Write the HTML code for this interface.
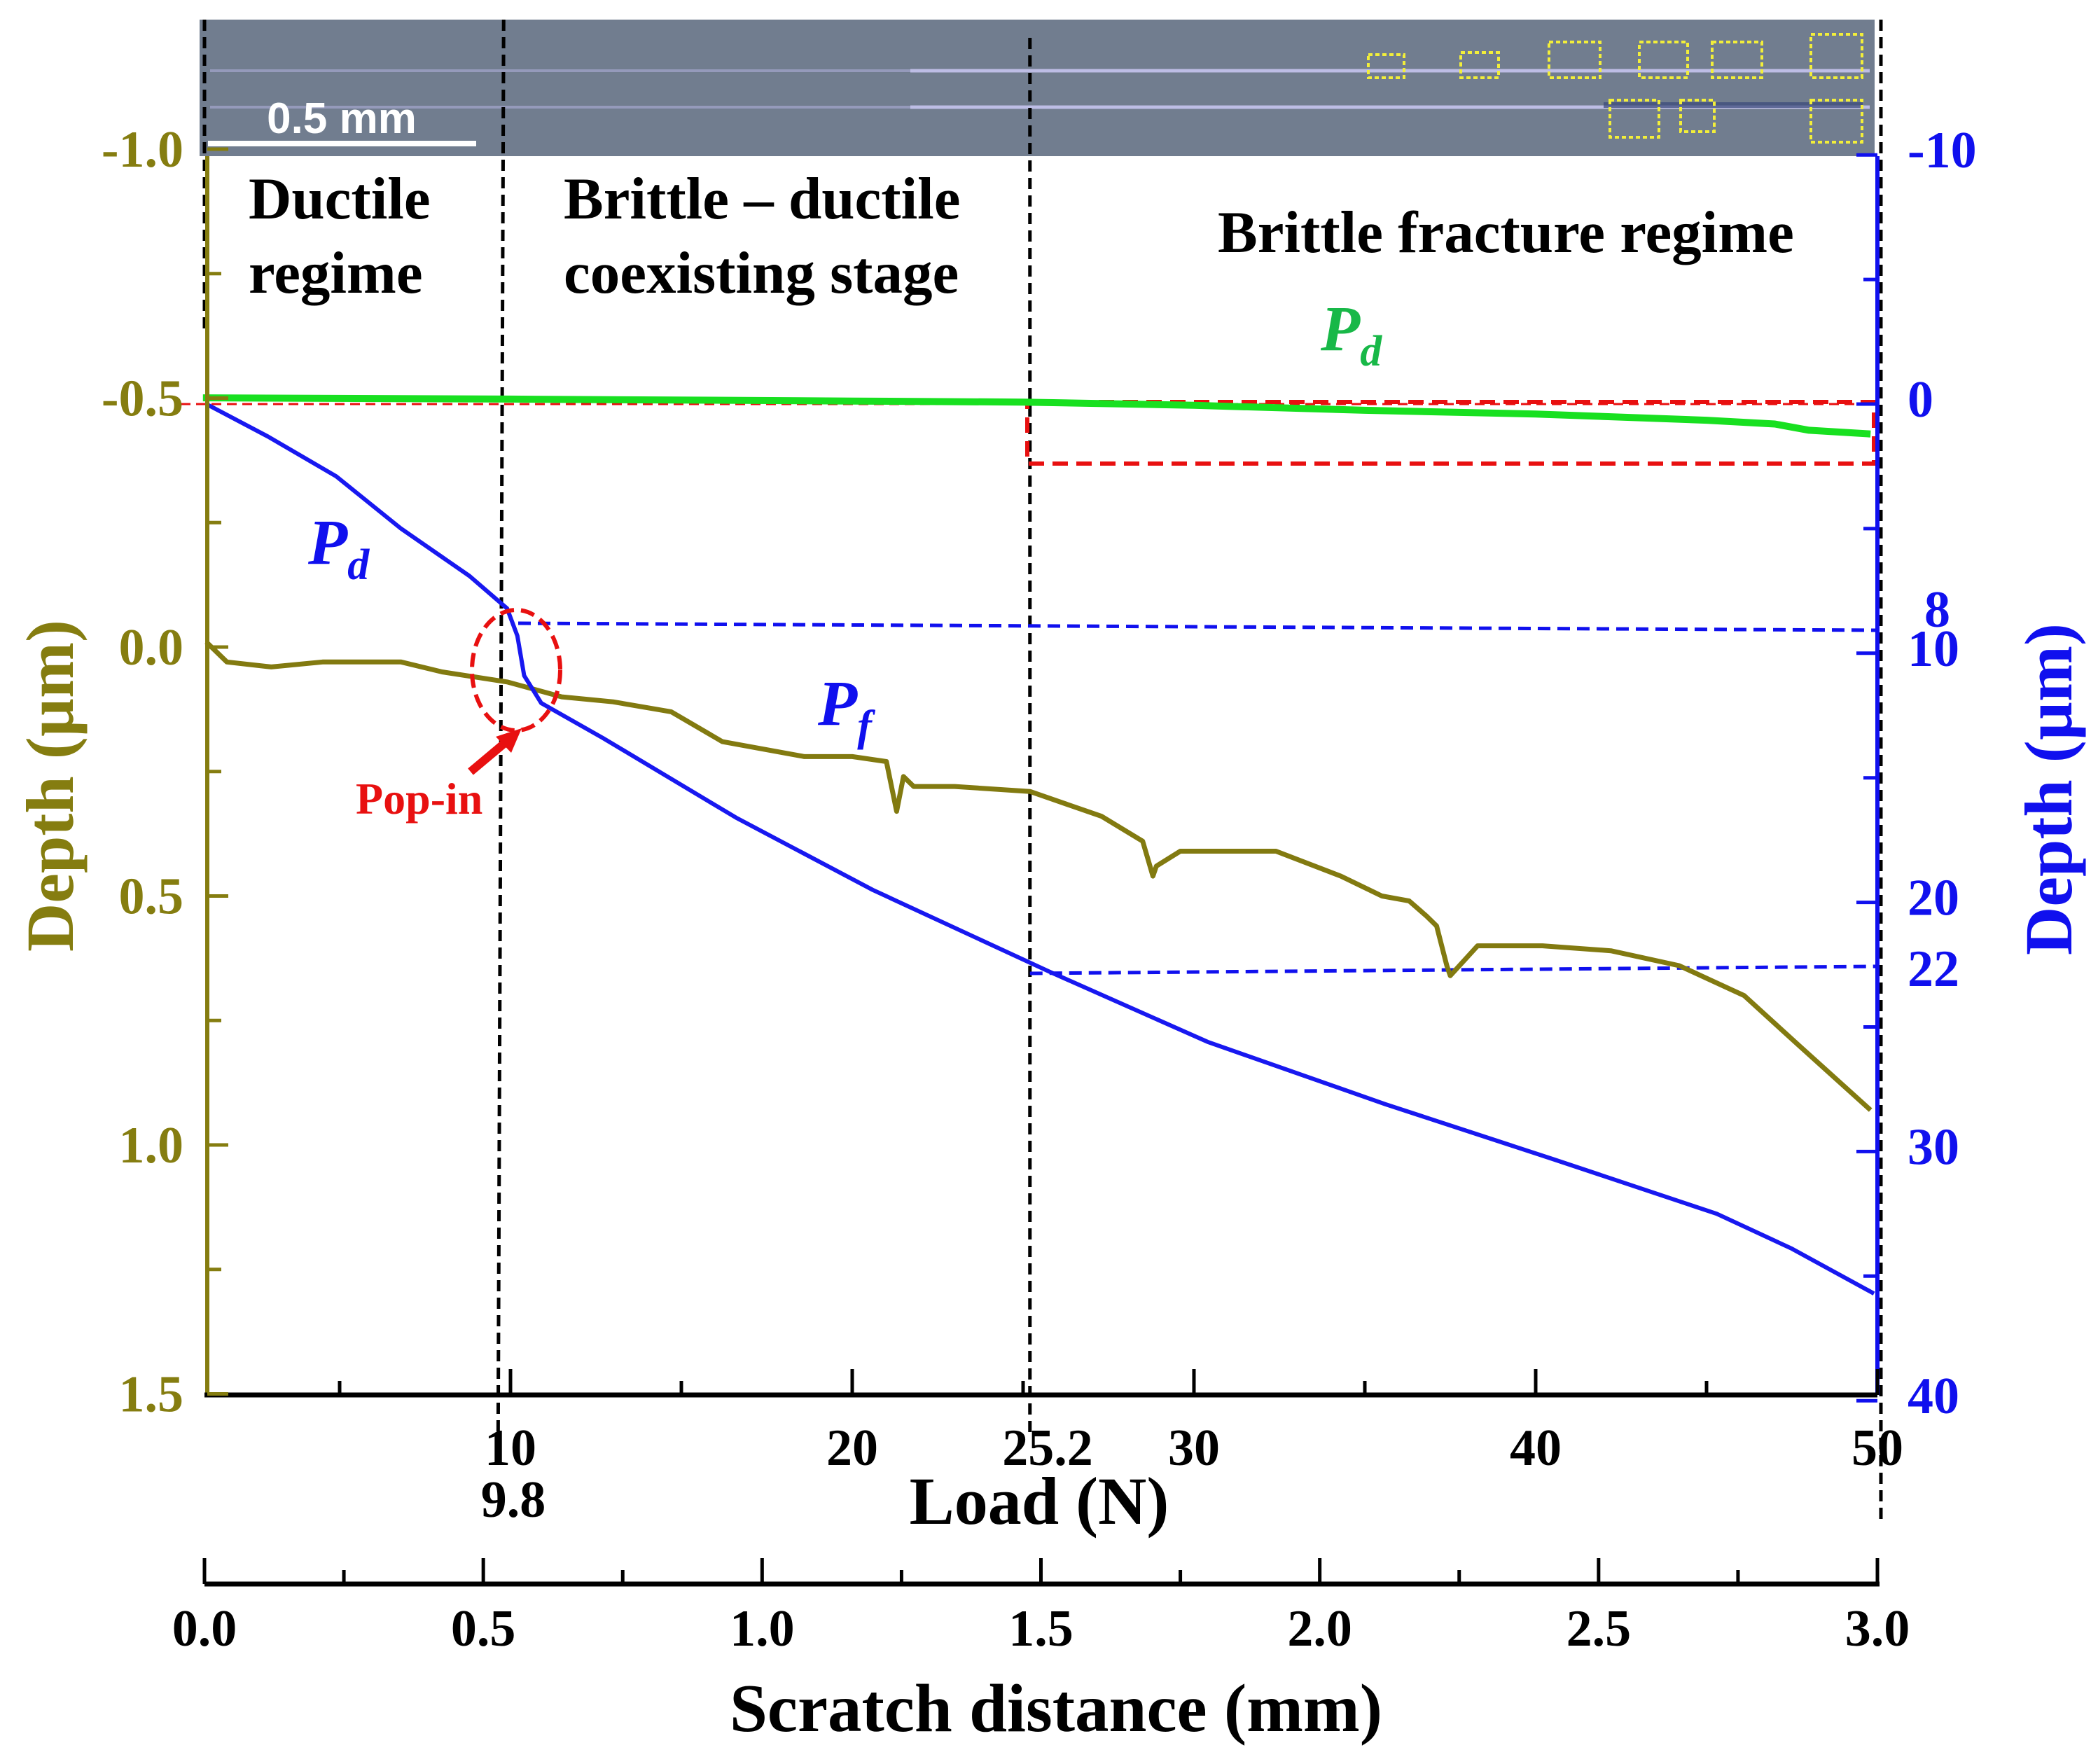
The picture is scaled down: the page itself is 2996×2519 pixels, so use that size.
<!DOCTYPE html>
<html><head><meta charset="utf-8"><style>
html,body{margin:0;padding:0;background:#fff;}
svg{display:block;}
text{font-family:"Liberation Serif",serif;font-weight:bold;}
</style></head><body>
<svg id="chart" width="2996" height="2519" viewBox="0 0 2996 2519" xmlns="http://www.w3.org/2000/svg">
<g id="micro">
<rect x="285" y="28" width="2392" height="195" fill="#737f92"/>
<rect x="285" y="28" width="2392" height="195" fill="#6f7b8c" opacity="0.4"/>
<line x1="300" y1="101" x2="2670" y2="101" stroke="#b9b8e8" stroke-width="4" opacity="0.5"/>
<line x1="300" y1="153" x2="2670" y2="153" stroke="#b9b8e8" stroke-width="4" opacity="0.5"/>
<line x1="1300" y1="101" x2="2670" y2="101" stroke="#c8c6f0" stroke-width="5" opacity="0.8"/>
<line x1="1300" y1="153" x2="2670" y2="153" stroke="#c8c6f0" stroke-width="5" opacity="0.8"/>
<line x1="2290" y1="150" x2="2660" y2="150" stroke="#39477a" stroke-width="8" opacity="0.7"/>
<g fill="none" stroke="#f2ee3a" stroke-width="4" stroke-dasharray="6 4">
<rect x="1954" y="78" width="51" height="33"/><rect x="2086" y="75" width="54" height="36"/>
<rect x="2212" y="60" width="73" height="51"/><rect x="2341" y="60" width="69" height="51"/>
<rect x="2445" y="60" width="71" height="51"/><rect x="2586" y="49" width="73" height="62"/>
<rect x="2299" y="143" width="70" height="53"/><rect x="2400" y="143" width="48" height="45"/>
<rect x="2586" y="143" width="73" height="60"/>
</g>
<rect x="297" y="201" width="383" height="8" fill="#fff"/>
<text x="488" y="190" font-size="62" fill="#fff" text-anchor="middle" style="font-family:'Liberation Sans',sans-serif">0.5 mm</text>
</g>
<g id="plot"></g>
</svg>
<script>
const pdLoad=[1.1,2.9,4.9,6.8,8.8,9.9,10.2,10.4,10.9,12.7,16.6,20.6,25.8,30.4,35.6,40.5,45.3,47.5,49.9];
const pdDepth=[0,1.3,2.9,5.0,6.9,8.2,9.3,10.9,12.0,13.4,16.6,19.5,22.8,25.6,28.1,30.3,32.5,33.9,35.7];
const pfLoad=[1.1,1.7,3,4.5,6.8,8,9.9,11.5,13,14.7,16.2,18.6,20,21.0,21.3,21.5,21.8,23,25.2,27.3,28.5,28.8,28.9,29.6,32.4,34.3,35.5,36.3,36.8,37.1,37.4,37.5,38.3,40.2,42.2,44.2,46.1,47.7,49.8];
const pfDepth=[-0.01,0.03,0.04,0.03,0.03,0.05,0.07,0.1,0.11,0.13,0.19,0.22,0.22,0.23,0.33,0.26,0.28,0.28,0.29,0.34,0.39,0.46,0.44,0.41,0.41,0.46,0.5,0.51,0.54,0.56,0.64,0.66,0.6,0.6,0.61,0.64,0.7,0.8,0.93];
const pdGreenLoad=[1,10,20,25,30,35,40,45,47,48,49.8];
const pdGreenDepth=[-0.25,-0.2,-0.12,-0.08,0.05,0.25,0.4,0.65,0.8,1.05,1.2];
const leftTicks=[-1.0,-0.5,0.0,0.5,1.0,1.5];
const rightTicks=[-10,0,10,20,30,40];
const loadTicks=[10,20,30,40,50];
const distTicks=[0,0.5,1.0,1.5,2.0,2.5,3.0];

const NS='http://www.w3.org/2000/svg';
const g=document.getElementById('plot');
const xL=L=>2681-(50-L)*48.8;
const yLeft=v=>924+v*711;
const yRight=d=>577+d*35.58;
const xD=m=>292+m*(2681-292)/3;
function el(t,a,p){const e=document.createElementNS(NS,t);for(const k in a)e.setAttribute(k,a[k]);(p||g).appendChild(e);return e;}
function txt(s,a){const e=el('text',a);e.textContent=s;return e;}
const OL='#857d10',BL='#1010ee';
const TF=74;

let e;
e=el('line',{x1:292,y1:28,x2:292,y2:478,stroke:'#000','stroke-width':5,'stroke-dasharray':'16 9'});


e=el('line',{x1:xL(9.8),y1:28,x2:xL(9.8)-8,y2:2070,stroke:'#000','stroke-width':5,'stroke-dasharray':'16 9'});


e=el('line',{x1:xL(25.2),y1:54,x2:xL(25.2),y2:2050,stroke:'#000','stroke-width':5,'stroke-dasharray':'16 9'});


e=el('line',{x1:2686,y1:28,x2:2686,y2:2170,stroke:'#000','stroke-width':5,'stroke-dasharray':'16 9'});



e=el('line',{x1:258,y1:yRight(0),x2:2681,y2:yRight(0),stroke:'#e81010','stroke-width':3,'stroke-dasharray':'14 8'});


e=el('rect',{x:1467,y:574,width:1209,height:88,fill:'none',stroke:'#e81010','stroke-width':6,'stroke-dasharray':'22 12'});



e=el('line',{x1:740,y1:890,x2:2681,y2:900,stroke:BL,'stroke-width':5,'stroke-dasharray':'18 10'});


e=el('line',{x1:xL(25.2),y1:1390,x2:2681,y2:1380,stroke:BL,'stroke-width':5,'stroke-dasharray':'18 10'});



function poly(xs,ys,fx,fy,col,w,name){
  const pts=xs.map((x,i)=>fx(x).toFixed(1)+','+fy(ys[i]).toFixed(1)).join(' ');
  const p=el('polyline',{points:pts,fill:'none',stroke:col,'stroke-width':w,'stroke-linejoin':'round'});
  
  
}
poly(pdGreenLoad,pdGreenDepth,xL,yRight,'#18e020',10,'pd-green-line');
poly(pfLoad,pfDepth,xL,yLeft,'#827a10',7,'pf-olive-line');
poly(pdLoad,pdDepth,xL,yRight,'#1818f0',6,'pd-blue-line');

e=el('ellipse',{cx:737,cy:957,rx:63,ry:86,fill:'none',stroke:'#e81010','stroke-width':6,'stroke-dasharray':'20 10'});


e=el('line',{x1:672,y1:1102,x2:728,y2:1055,stroke:'#e81010','stroke-width':12});


e=el('polygon',{points:'745,1040 708,1052 730,1075',fill:'#e81010'});



e=el('line',{x1:296,y1:223,x2:296,y2:1992,stroke:OL,'stroke-width':6});


e=el('line',{x1:2681,y1:223,x2:2681,y2:1992,stroke:BL,'stroke-width':6});


e=el('line',{x1:292,y1:1992,x2:2681,y2:1992,stroke:'#000','stroke-width':7});


e=el('line',{x1:292,y1:2262,x2:2684,y2:2262,stroke:'#000','stroke-width':7});



leftTicks.forEach((v,i)=>{
  const y=yLeft(v);
  let t=el('line',{x1:296,y1:y,x2:326,y2:y,stroke:OL,'stroke-width':5});
  
  
  if(i<leftTicks.length-1){t=el('line',{x1:296,y1:y+355.5/2,x2:316,y2:y+355.5/2,stroke:OL,'stroke-width':5});
  
  }
  t=txt(v.toFixed(1),{x:262,y:y+25,'font-size':TF,fill:OL,'text-anchor':'end'});
  
  
});
rightTicks.forEach((v,i)=>{
  const y=yRight(v);
  let t=el('line',{x1:2651,y1:y,x2:2681,y2:y,stroke:BL,'stroke-width':5});
  
  
  if(i<rightTicks.length-1){t=el('line',{x1:2661,y1:y+177.9,x2:2681,y2:y+177.9,stroke:BL,'stroke-width':5});
  
  }
  t=txt(String(v),{x:2724,y:y+18,'font-size':TF,fill:BL});
  
  
});
e=txt('8',{x:2748,y:895,'font-size':TF,fill:BL});


e=txt('22',{x:2724,y:1408,'font-size':TF,fill:BL});



loadTicks.forEach(v=>{
  const x=xL(v);
  let t=el('line',{x1:x,y1:1992,x2:x,y2:1955,stroke:'#000','stroke-width':5});
  
  
  t=el('line',{x1:xL(v-5),y1:1992,x2:xL(v-5),y2:1972,stroke:'#000','stroke-width':5});
  
  
  t=txt(String(v),{x:x,y:2092,'font-size':TF,fill:'#000','text-anchor':'middle'});
  
  
});
e=txt('25.2',{x:1496,y:2092,'font-size':TF,fill:'#000','text-anchor':'middle'});


e=txt('9.8',{x:733,y:2166,'font-size':TF,fill:'#000','text-anchor':'middle'});


e=txt('Load (N)',{x:1484,y:2176,'font-size':96,fill:'#000','text-anchor':'middle'});



distTicks.forEach((v,i)=>{
  const x=xD(v);
  let t=el('line',{x1:x,y1:2262,x2:x,y2:2225,stroke:'#000','stroke-width':5});
  
  
  if(i<distTicks.length-1){t=el('line',{x1:xD(v+0.25),y1:2262,x2:xD(v+0.25),y2:2242,stroke:'#000','stroke-width':5});
  
  }
  t=txt(v.toFixed(1),{x:x,y:2350,'font-size':TF,fill:'#000','text-anchor':'middle'});
  
  
});
e=txt('Scratch distance (mm)',{x:1508,y:2472,'font-size':97,fill:'#000','text-anchor':'middle'});



e=txt('Depth  (µm)',{x:0,y:0,'font-size':96,fill:OL,'text-anchor':'middle',transform:'translate(104,1122) rotate(-90)'});


e=txt('Depth  (µm)',{x:0,y:0,'font-size':96,fill:BL,'text-anchor':'middle',transform:'translate(2958,1127) rotate(-90)'});



[['Ductile',355,312],['regime',355,418],['Brittle – ductile',805,312],['coexisting stage',805,418],['Brittle fracture regime',1739,360]].forEach(r=>{
  const t=txt(r[0],{x:r[1],y:r[2],'font-size':85,fill:'#000'});
  
  
});
function sub(label,x,y,col,name){
  const t=el('text',{x:x,y:y,'font-size':92,fill:col,'font-style':'italic'});
  
  
  const a=document.createElementNS(NS,'tspan');a.textContent='P';t.appendChild(a);
  const b=document.createElementNS(NS,'tspan');b.textContent=label;b.setAttribute('font-size','62');b.setAttribute('dy','22');t.appendChild(b);
}
sub('d',1886,500,'#18b848','pd-green-label');
sub('d',440,805,BL,'pd-blue-label');
sub('f',1168,1035,BL,'pf-label');
e=txt('Pop-in',{x:508,y:1162,'font-size':64,fill:'#e81010'});


</script>
</body></html>
